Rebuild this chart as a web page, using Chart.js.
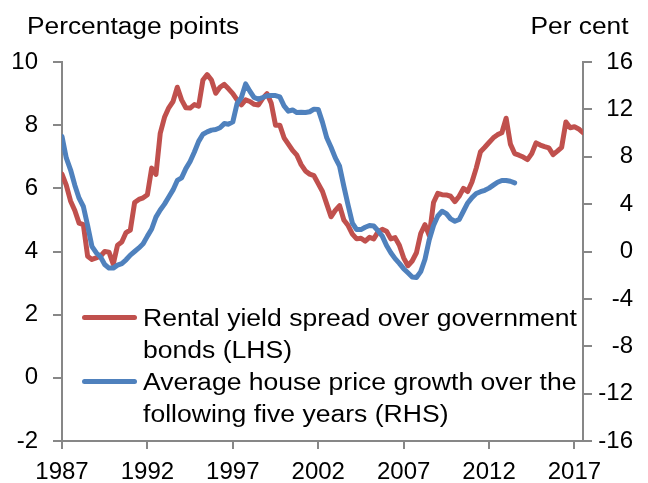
<!DOCTYPE html>
<html><head><meta charset="utf-8">
<script src="https://cdn.jsdelivr.net/npm/chart.js@4/dist/chart.umd.min.js"></script>
<style>
html,body{margin:0;padding:0;background:#fff;}
#wrap{position:relative;width:648px;height:483px;overflow:hidden;}
canvas{position:absolute;left:0;top:0;}
.t{position:absolute;font-family:"Liberation Sans",Arial,sans-serif;color:#000;white-space:nowrap;font-size:23.5px;line-height:27px;}
.sw{position:absolute;height:5px;border-radius:3px;}
.lg{position:absolute;font-family:"Liberation Sans",Arial,sans-serif;color:#000;font-size:23.5px;line-height:32px;white-space:nowrap;transform:scaleX(1.13);transform-origin:0 0;}
</style></head><body>
<div id="wrap">
<canvas id="c" width="648" height="483"></canvas>
<div class="t" style="left:27px;top:13px;transform:scaleX(1.12);transform-origin:0 0;">Percentage points</div>
<div class="t" style="right:19px;top:13px;transform:scaleX(1.12);transform-origin:100% 0;">Per cent</div>
<div id="legend"></div>
</div>
<script>
// ---- data (quarterly, starting 1987 Q1) ----
const startYear = 1987;
const seriesNames = [
  ["Rental yield spread over government", "bonds (LHS)"],
  ["Average house price growth over the", "following five years (RHS)"]
];
const yearTicks = [1987, 1992, 1997, 2002, 2007, 2012, 2017];
const leftTicks = [-2, 0, 2, 4, 6, 8, 10];
const rightTicks = [-16, -12, -8, -4, 0, 4, 8, 12, 16];

// Rental yield spread over government bonds (percentage points, LHS)
const rentalSpread = [
  6.45, 6.1, 5.6, 5.3, 4.9, 4.85, 3.85, 3.75, 3.8, 3.85,
  4.0, 3.98, 3.6, 4.2, 4.3, 4.6, 4.68, 5.55, 5.65, 5.7,
  5.8, 6.64, 6.44, 7.74, 8.25, 8.55, 8.75, 9.2, 8.8, 8.55,
  8.54, 8.65, 8.6, 9.43, 9.6, 9.43, 9.01, 9.2, 9.29, 9.15,
  9.0, 8.8, 8.64, 8.8, 8.75, 8.66, 8.64, 8.85, 9.0, 8.69,
  8.0, 8.0, 7.6, 7.4, 7.2, 7.05, 6.75, 6.55, 6.45, 6.4,
  6.15, 5.9, 5.5, 5.1, 5.3, 5.45, 5.0, 4.82, 4.55, 4.4,
  4.42, 4.33, 4.45, 4.4, 4.62, 4.7, 4.64, 4.4, 4.44, 4.2,
  3.8, 3.55, 3.7, 3.96, 4.57, 4.85, 4.5, 5.55, 5.84, 5.8,
  5.79, 5.75, 5.58, 5.75, 6.0, 5.9, 6.2, 6.64, 7.16, 7.3,
  7.45, 7.6, 7.7, 7.76, 8.22, 7.4, 7.1, 7.05, 6.99, 6.91,
  7.1, 7.44, 7.37, 7.32, 7.28, 7.07, 7.18, 7.3, 8.1, 7.92,
  7.95, 7.88, 7.76
];
// Average house price growth over the following five years (per cent, RHS)
const housePriceGrowth = [
  9.7, 7.9, 6.9, 5.6, 4.5, 3.8, 2.2, 0.44, -0.1, -0.45,
  -1.1, -1.4, -1.4, -1.15, -1.02, -0.7, -0.3, 0.0, 0.3, 0.65,
  1.3, 1.9, 2.9, 3.5, 4.0, 4.6, 5.2, 6.0, 6.22, 7.0,
  7.6, 8.4, 9.3, 9.9, 10.1, 10.25, 10.3, 10.45, 10.8, 10.75,
  10.95, 12.5, 13.0, 14.15, 13.53, 13.0, 12.86, 13.0, 13.15, 13.17,
  13.17, 13.06, 12.3, 11.85, 11.95, 11.73, 11.76, 11.74, 11.8, 12.02,
  12.0, 10.9, 9.6, 8.8, 7.9, 7.2, 5.5, 3.9, 2.4, 1.85,
  1.85, 2.05, 2.2, 2.15, 1.75, 1.3, 0.5, -0.1, -0.6, -1.0,
  -1.45, -1.8, -2.15, -2.2, -1.7, -0.65, 1.0, 2.2, 3.0, 3.4,
  3.2, 2.75, 2.55, 2.7, 3.4, 4.1, 4.55, 4.9, 5.05, 5.17,
  5.35, 5.6, 5.85, 6.0, 6.0, 5.93, 5.8
];

const colors = ["#C0504D", "#4F81BD"];
const FONT = "'Liberation Sans', Arial, sans-serif";
const AXIS = "#878787";

const toPoints = arr => arr.map((v, i) => ({x: startYear + i / 4, y: v}));

// legend (HTML text)
const lg = document.getElementById('legend');
const legendTops = [302, 366];
seriesNames.forEach((lines, k) => {
  const sw = document.createElement('div');
  sw.className = 'sw';
  sw.style.left = '82px'; sw.style.width = '55px';
  sw.style.top = (legendTops[k] + 13) + 'px';
  sw.style.background = colors[k];
  lg.appendChild(sw);
  const tx = document.createElement('div');
  tx.className = 'lg';
  tx.style.left = '143px'; tx.style.top = legendTops[k] + 'px';
  tx.innerHTML = lines.join('<br>');
  lg.appendChild(tx);
});

new Chart(document.getElementById('c'), {
  type: 'line',
  data: {
    datasets: [
      {label: seriesNames[0].join(' '), data: toPoints(rentalSpread), yAxisID: 'yL',
       borderColor: colors[0], borderWidth: 5, pointRadius: 0, order: 2,
       borderJoinStyle: 'round', borderCapStyle: 'round', tension: 0},
      {label: seriesNames[1].join(' '), data: toPoints(housePriceGrowth), yAxisID: 'yR',
       borderColor: colors[1], borderWidth: 5, pointRadius: 0, order: 1,
       borderJoinStyle: 'round', borderCapStyle: 'round', tension: 0}
    ]
  },
  options: {
    responsive: false, animation: false, devicePixelRatio: 1,
    layout: {padding: {left: 0, right: 15, top: 62, bottom: 0}},
    plugins: {legend: {display: false}, tooltip: {enabled: false}},
    scales: {
      x: {
        type: 'linear', min: startYear, max: 2017.5,
        afterBuildTicks: s => { s.ticks = yearTicks.map(v => ({value: v})); },
        afterFit: s => { s.height = 42; },
        ticks: {font: {family: FONT, size: 24}, color: '#000', padding: 9,
                callback: v => String(v), maxRotation: 0, autoSkip: false},
        grid: {drawOnChartArea: false, color: AXIS, lineWidth: 2, tickLength: 8},
        border: {color: AXIS, width: 2}
      },
      yL: {
        position: 'left', min: -2, max: 10,
        afterBuildTicks: s => { s.ticks = leftTicks.map(v => ({value: v})); },
        afterFit: s => { s.width = 62; },
        ticks: {font: {family: FONT, size: 24}, color: '#000', padding: 15},
        grid: {drawOnChartArea: false, color: AXIS, lineWidth: 2, tickLength: 9},
        border: {color: AXIS, width: 2}
      },
      yR: {
        position: 'right', min: -16, max: 16,
        afterBuildTicks: s => { s.ticks = rightTicks.map(v => ({value: v})); },
        afterFit: s => { s.width = 50; },
        ticks: {font: {family: FONT, size: 24}, color: '#000', padding: 5, crossAlign: 'far'},
        grid: {drawOnChartArea: false, color: AXIS, lineWidth: 2, tickLength: 9},
        border: {color: AXIS, width: 2}
      }
    }
  }
});
</script>
</body></html>
